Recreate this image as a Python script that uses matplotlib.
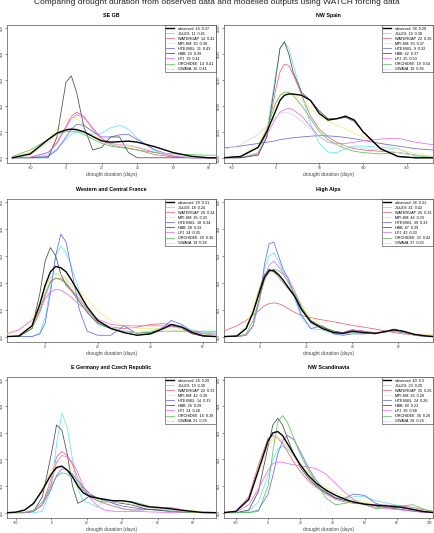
# -*- coding: utf-8 -*-
"""
Drought duration densities: observed vs modelled (WATCH forcing), six regions.
"""

import numpy as np
import matplotlib
matplotlib.use("Agg")
import matplotlib.pyplot as plt

plt.rcParams['font.family'] = ['Liberation Sans', 'DejaVu Sans']

models = ['observed', 'JULES', 'WATERGAP', 'MPI-HM', 'HTESSEL', 'HBB', 'LPJ',
          'ORCHIDEE', 'GWAVA']
colors = ['black', '#5fe6f2', '#f0607a', '#f3ee78', '#6868ee', '#4a4a4a',
          '#ec6cee', '#58c458', '#d6d6d6']

# ---- SE GB (density in units of 0.01) ----
segb_x = [-30, -20, -10, -5, 0, 3, 6, 10, 15, 20, 25, 30, 35, 40, 50, 60, 70, 80, 84]
segb_y = {
    'observed': [0, 0.15, 0.7, 0.95, 1.07, 1.1, 1.08, 1.0, 0.82, 0.65, 0.6, 0.62, 0.64, 0.6, 0.42, 0.2, 0.06, 0, 0],
    'JULES':    [0, 0, 0.1, 0.35, 0.7, 0.9, 1.0, 0.98, 0.9, 0.95, 1.15, 1.25, 1.1, 0.75, 0.25, 0.05, 0, 0, 0],
    'WATERGAP': [0, 0.02, 0.2, 0.6, 1.2, 1.6, 1.75, 1.6, 1.1, 0.7, 0.5, 0.42, 0.38, 0.3, 0.12, 0.03, 0, 0, 0],
    'MPI-HM':   [0.03, 0.2, 0.7, 1.1, 1.45, 1.55, 1.5, 1.3, 0.95, 0.7, 0.55, 0.5, 0.45, 0.38, 0.2, 0.08, 0.02, 0, 0],
    'HTESSEL':  [0, 0, 0.05, 0.3, 0.8, 1.1, 1.28, 1.25, 1.0, 0.8, 0.8, 0.88, 0.9, 0.7, 0.3, 0.07, 0, 0, 0],
    'HBB':      [0, 0, 0, 0.8, 2.9, 3.15, 2.5, 1.2, 0.3, 0.4, 0.8, 0.8, 0.2, 0, 0, 0, 0, 0, 0],
    'LPJ':      [0, 0.02, 0.2, 0.55, 1.15, 1.5, 1.65, 1.55, 1.15, 0.75, 0.55, 0.5, 0.48, 0.4, 0.2, 0.06, 0, 0, 0],
    'ORCHIDEE': [0.05, 0.3, 0.7, 0.9, 1.0, 1.02, 1.0, 0.9, 0.72, 0.55, 0.45, 0.4, 0.35, 0.3, 0.2, 0.15, 0.12, 0.1, 0.1],
    'GWAVA':    [0, 0.1, 0.6, 0.9, 1.1, 1.15, 1.1, 1.0, 0.8, 0.6, 0.5, 0.5, 0.48, 0.42, 0.25, 0.1, 0.02, 0, 0],
}
segb_n = [16, 11, 14, 30, 11, 23, 19, 14, 16]
segb_r = [0.37, 0.41, 0.41, 0.38, 0.43, 0.39, 0.41, 0.41, 0.41]

# ---- NW Spain (density in units of 0.005) ----
spain_x = [-60, -40, -20, -10, 0, 5, 10, 15, 20, 30, 40, 50, 60, 70, 80, 90, 100, 120, 140, 160, 180]
spain_y = {
    'observed': [0, 0.05, 0.4, 1.0, 1.8, 2.2, 2.4, 2.45, 2.45, 2.4, 2.2, 1.7, 1.45, 1.5, 1.6, 1.45, 1.0, 0.35, 0.05, 0, 0],
    'JULES':    [0, 0, 0.2, 1.0, 3.2, 4.2, 4.45, 4.2, 3.6, 2.4, 1.3, 0.55, 0.22, 0.2, 0.35, 0.45, 0.45, 0.4, 0.35, 0.05, 0],
    'WATERGAP': [0, 0, 0.15, 0.8, 2.6, 3.3, 3.6, 3.55, 3.2, 2.4, 1.6, 1.1, 0.8, 0.6, 0.45, 0.35, 0.3, 0.25, 0.2, 0.1, 0.05],
    'MPI-HM':   [0, 0.05, 0.5, 1.2, 2.1, 2.4, 2.55, 2.55, 2.45, 2.2, 1.9, 1.6, 1.4, 1.25, 1.1, 0.95, 0.8, 0.55, 0.35, 0.15, 0.05],
    'HTESSEL':  [0.37, 0.45, 0.55, 0.6, 0.65, 0.7, 0.72, 0.75, 0.77, 0.8, 0.83, 0.85, 0.84, 0.82, 0.78, 0.73, 0.67, 0.55, 0.45, 0.35, 0.3],
    'HBB':      [0, 0, 0.1, 0.8, 3.0, 4.2, 4.45, 4.0, 3.3, 2.5, 2.2, 1.8, 1.5, 1.5, 1.55, 1.4, 1.0, 0.35, 0.05, 0, 0],
    'LPJ':      [0, 0.05, 0.4, 0.9, 1.5, 1.75, 1.85, 1.9, 1.85, 1.6, 1.2, 0.8, 0.6, 0.55, 0.55, 0.6, 0.65, 0.72, 0.75, 0.6, 0.5],
    'ORCHIDEE': [0, 0.05, 0.4, 1.1, 2.1, 2.4, 2.5, 2.5, 2.4, 2.0, 1.5, 1.0, 0.7, 0.5, 0.35, 0.25, 0.2, 0.15, 0.2, 0.1, 0],
    'GWAVA':    [0.3, 0.5, 0.9, 1.2, 1.55, 1.7, 1.75, 1.72, 1.65, 1.4, 1.1, 0.8, 0.6, 0.5, 0.45, 0.4, 0.35, 0.3, 0.2, 0.1, 0.05],
}
spain_n = [38, 19, 22, 30, 9, 42, 25, 19, 19]
spain_r = [0.29, 0.38, 0.36, 0.37, 0.32, 0.37, 0.53, 0.54, 0.38]

# ---- Western and Central France (units of 0.01) ----
france_x = [-15, -10, -5, -2, 0, 2, 4, 6, 8, 10, 13, 16, 20, 25, 30, 35, 40, 45, 48, 52, 56, 60, 65]
france_y = {
    'observed': [0, 0.02, 0.4, 1.2, 1.9, 2.4, 2.6, 2.55, 2.4, 2.1, 1.6, 1.1, 0.6, 0.3, 0.15, 0.05, 0.1, 0.3, 0.45, 0.35, 0.15, 0.03, 0],
    'JULES':    [0, 0, 0, 0.15, 0.7, 1.8, 3.0, 3.35, 3.1, 2.6, 1.7, 0.9, 0.45, 0.3, 0.2, 0.15, 0.2, 0.35, 0.45, 0.4, 0.25, 0.15, 0.15],
    'WATERGAP': [0, 0.02, 0.3, 0.9, 1.5, 2.0, 2.17, 2.15, 2.0, 1.75, 1.4, 1.0, 0.55, 0.35, 0.3, 0.35, 0.45, 0.48, 0.45, 0.35, 0.2, 0.1, 0.05],
    'MPI-HM':   [0.05, 0.2, 0.7, 1.3, 1.8, 2.2, 2.3, 2.25, 2.1, 1.95, 1.7, 1.4, 0.95, 0.6, 0.4, 0.3, 0.3, 0.3, 0.28, 0.22, 0.15, 0.08, 0.03],
    'HTESSEL':  [0, 0, 0, 0.1, 0.5, 1.6, 3.0, 3.8, 3.5, 2.5, 1.0, 0.2, 0.05, 0.05, 0.4, 0.1, 0.1, 0.35, 0.6, 0.45, 0.15, 0.02, 0],
    'HBB':      [0, 0, 0.3, 1.6, 2.8, 3.3, 3.0, 2.3, 1.9, 1.7, 1.3, 0.9, 0.5, 0.3, 0.2, 0.15, 0.15, 0.3, 0.4, 0.3, 0.1, 0.02, 0],
    'LPJ':      [0.1, 0.25, 0.6, 1.0, 1.4, 1.65, 1.75, 1.72, 1.6, 1.45, 1.2, 0.95, 0.65, 0.45, 0.4, 0.4, 0.4, 0.4, 0.38, 0.3, 0.2, 0.12, 0.1],
    'ORCHIDEE': [0, 0.02, 0.3, 1.0, 1.6, 2.05, 2.17, 2.1, 1.95, 1.7, 1.3, 0.9, 0.5, 0.3, 0.2, 0.15, 0.15, 0.2, 0.2, 0.2, 0.2, 0.2, 0.2],
    'GWAVA':    [0, 0.03, 0.4, 1.1, 1.8, 2.2, 2.35, 2.3, 2.15, 1.9, 1.5, 1.05, 0.6, 0.35, 0.2, 0.15, 0.2, 0.3, 0.35, 0.3, 0.15, 0.05, 0],
}
france_n = [28, 18, 20, 35, 18, 28, 24, 20, 19]
france_r = [0.31, 0.24, 0.34, 0.33, 0.34, 0.33, 0.35, 0.36, 0.28]

# ---- High Alps (units of 0.01) ----
alps_x = [-16, -10, -6, -3, 0, 2, 4, 6, 8, 10, 12, 15, 18, 22, 27, 32, 36, 40, 45, 50, 55, 58, 62, 67, 72, 75]
alps_y = {
    'observed': [0, 0.02, 0.3, 0.9, 1.7, 2.2, 2.45, 2.45, 2.3, 2.1, 1.85, 1.5, 1.0, 0.55, 0.3, 0.15, 0.12, 0.2, 0.15, 0.12, 0.2, 0.25, 0.2, 0.08, 0.02, 0],
    'JULES':    [0, 0, 0.05, 0.4, 1.5, 2.5, 3.0, 3.1, 2.8, 2.4, 2.1, 1.4, 0.7, 0.3, 0.25, 0.1, 0.1, 0.15, 0.15, 0.12, 0.2, 0.22, 0.15, 0.05, 0, 0],
    'WATERGAP': [0.2, 0.4, 0.6, 0.8, 1.0, 1.15, 1.22, 1.25, 1.22, 1.15, 1.05, 0.9, 0.78, 0.7, 0.62, 0.55, 0.48, 0.42, 0.35, 0.28, 0.2, 0.15, 0.1, 0.07, 0.06, 0.05],
    'MPI-HM':   [0, 0.05, 0.4, 1.1, 1.9, 2.3, 2.45, 2.4, 2.3, 2.1, 1.9, 1.6, 1.2, 0.75, 0.4, 0.2, 0.15, 0.2, 0.2, 0.15, 0.18, 0.2, 0.18, 0.12, 0.08, 0.05],
    'HTESSEL':  [0, 0, 0.05, 0.4, 1.5, 2.7, 3.45, 3.5, 3.0, 2.5, 2.2, 1.5, 0.8, 0.3, 0.4, 0.1, 0.05, 0.1, 0.1, 0.12, 0.18, 0.2, 0.15, 0.05, 0, 0],
    'HBB':      [0, 0.02, 0.3, 0.9, 1.8, 2.3, 2.5, 2.4, 2.2, 2.0, 1.8, 1.5, 1.05, 0.6, 0.35, 0.2, 0.15, 0.25, 0.2, 0.12, 0.2, 0.28, 0.2, 0.08, 0.02, 0],
    'LPJ':      [0, 0, 0.05, 0.4, 1.4, 2.2, 2.65, 2.8, 2.6, 2.35, 2.2, 1.7, 1.1, 0.5, 0.3, 0.15, 0.15, 0.25, 0.2, 0.15, 0.2, 0.2, 0.15, 0.08, 0.02, 0],
    'ORCHIDEE': [0, 0, 0.1, 0.6, 1.5, 2.1, 2.4, 2.5, 2.45, 2.3, 2.05, 1.6, 1.1, 0.6, 0.3, 0.15, 0.12, 0.15, 0.12, 0.1, 0.18, 0.22, 0.15, 0.05, 0.01, 0],
    'GWAVA':    [0, 0.02, 0.3, 0.9, 1.7, 2.15, 2.35, 2.35, 2.2, 2.0, 1.8, 1.45, 1.0, 0.55, 0.3, 0.15, 0.12, 0.18, 0.15, 0.12, 0.2, 0.22, 0.18, 0.06, 0.01, 0],
}
alps_n = [38, 41, 26, 46, 39, 47, 43, 33, 37]
alps_r = [0.31, 0.42, 0.33, 0.33, 0.33, 0.39, 0.33, 0.42, 0.33]

# ---- E Germany and Czech Republic (units of 0.01) ----
germany_x = [-25, -20, -15, -10, -5, 0, 3, 6, 9, 12, 15, 18, 22, 26, 30, 35, 40, 45, 50, 55, 60, 67, 75, 85, 93]
germany_y = {
    'observed': [0, 0.02, 0.1, 0.35, 0.85, 1.45, 1.7, 1.75, 1.6, 1.35, 1.0, 0.75, 0.6, 0.55, 0.5, 0.45, 0.45, 0.4, 0.3, 0.22, 0.2, 0.15, 0.08, 0.01, 0],
    'JULES':    [0, 0, 0, 0, 0.05, 0.9, 2.6, 3.75, 3.2, 2.0, 0.9, 0.45, 0.35, 0.2, 0.55, 0.35, 0.15, 0.1, 0.1, 0.12, 0.1, 0.08, 0.05, 0, 0],
    'WATERGAP': [0, 0, 0, 0.05, 0.3, 1.3, 2.1, 2.3, 2.15, 1.8, 1.3, 0.9, 0.6, 0.45, 0.35, 0.25, 0.15, 0.1, 0.1, 0.12, 0.15, 0.2, 0.1, 0.02, 0],
    'MPI-HM':   [0, 0.02, 0.1, 0.35, 0.9, 1.6, 1.9, 1.95, 1.85, 1.6, 1.3, 1.0, 0.7, 0.55, 0.5, 0.42, 0.35, 0.3, 0.25, 0.2, 0.15, 0.12, 0.1, 0.05, 0.02],
    'HTESSEL':  [0, 0, 0, 0.05, 0.3, 0.9, 1.4, 1.65, 1.6, 1.45, 1.2, 0.95, 0.7, 0.55, 0.45, 0.35, 0.25, 0.2, 0.15, 0.12, 0.1, 0.05, 0.02, 0, 0],
    'HBB':      [0, 0, 0, 0.05, 0.6, 2.2, 3.3, 3.1, 2.2, 1.0, 0.35, 0.45, 0.65, 0.55, 0.45, 0.4, 0.35, 0.3, 0.2, 0.12, 0.1, 0.05, 0.02, 0, 0],
    'LPJ':      [0, 0, 0, 0.05, 0.3, 1.1, 1.9, 2.15, 2.1, 1.9, 1.5, 1.0, 0.55, 0.25, 0.1, 0.05, 0.05, 0.05, 0.05, 0.03, 0.02, 0.01, 0, 0, 0],
    'ORCHIDEE': [0, 0, 0.02, 0.1, 0.4, 1.0, 1.35, 1.5, 1.45, 1.3, 1.1, 0.85, 0.6, 0.45, 0.4, 0.42, 0.45, 0.42, 0.35, 0.25, 0.15, 0.05, 0.02, 0, 0],
    'GWAVA':    [0, 0.01, 0.08, 0.3, 0.8, 1.4, 1.65, 1.7, 1.55, 1.3, 1.0, 0.75, 0.6, 0.5, 0.45, 0.4, 0.38, 0.32, 0.25, 0.2, 0.15, 0.1, 0.05, 0.01, 0],
}
germany_n = [26, 19, 22, 42, 14, 26, 24, 16, 21]
germany_r = [0.29, 0.39, 0.33, 0.39, 0.33, 0.29, 0.28, 0.39, 0.39]

# ---- NW Scandinavia (units of 0.01) ----
scand_x = [-28, -20, -12, -6, 0, 3, 6, 9, 12, 16, 20, 25, 30, 36, 42, 48, 53, 60, 67, 75, 83, 90, 96, 103]
scand_y = {
    'observed': [0, 0.05, 0.5, 1.6, 2.7, 3.0, 3.05, 2.9, 2.6, 2.2, 1.8, 1.4, 1.1, 0.85, 0.65, 0.5, 0.4, 0.32, 0.28, 0.25, 0.2, 0.12, 0.05, 0],
    'JULES':    [0, 0, 0.05, 0.4, 1.4, 2.0, 2.4, 2.5, 2.4, 2.15, 1.8, 1.4, 1.05, 0.75, 0.55, 0.5, 0.6, 0.6, 0.45, 0.35, 0.25, 0.15, 0.05, 0],
    'WATERGAP': [0, 0.05, 0.6, 1.8, 2.8, 2.9, 2.8, 2.6, 2.3, 1.9, 1.55, 1.2, 0.95, 0.7, 0.5, 0.4, 0.35, 0.32, 0.3, 0.28, 0.25, 0.2, 0.12, 0.05],
    'MPI-HM':   [0, 0.05, 0.5, 1.5, 2.5, 2.75, 2.8, 2.7, 2.5, 2.2, 1.85, 1.5, 1.2, 0.95, 0.75, 0.6, 0.5, 0.4, 0.3, 0.25, 0.2, 0.12, 0.05, 0.01],
    'HTESSEL':  [0, 0, 0, 0.1, 0.7, 1.4, 2.2, 2.7, 2.9, 2.75, 2.3, 1.7, 1.2, 0.8, 0.55, 0.55, 0.7, 0.65, 0.35, 0.2, 0.18, 0.12, 0.05, 0],
    'HBB':      [0, 0, 0.1, 0.8, 2.5, 3.3, 3.55, 3.3, 2.8, 2.2, 1.7, 1.3, 1.0, 0.75, 0.55, 0.45, 0.4, 0.35, 0.25, 0.18, 0.12, 0.06, 0.02, 0],
    'LPJ':      [0, 0.02, 0.3, 0.9, 1.6, 1.85, 1.9, 1.9, 1.85, 1.8, 1.75, 1.72, 1.65, 1.45, 1.1, 0.75, 0.5, 0.3, 0.2, 0.15, 0.1, 0.05, 0.02, 0],
    'ORCHIDEE': [0, 0, 0, 0.05, 1.0, 2.3, 3.4, 3.65, 3.4, 2.8, 2.2, 1.6, 1.1, 0.55, 0.3, 0.35, 0.45, 0.3, 0.15, 0.2, 0.25, 0.3, 0.15, 0.02],
    'GWAVA':    [0, 0.05, 0.45, 1.5, 2.6, 2.85, 2.85, 2.7, 2.45, 2.1, 1.75, 1.4, 1.1, 0.85, 0.65, 0.5, 0.42, 0.35, 0.3, 0.25, 0.2, 0.12, 0.05, 0],
}
scand_n = [40, 23, 35, 36, 24, 40, 36, 36, 28]
scand_r = [0.3, 0.26, 0.26, 0.28, 0.26, 0.23, 0.68, 0.26, 0.26]


def plot_panel(ax, title, x, ys, ns, rs, step, xticks, xlim):
    """One density panel, R style."""
    for i, m in enumerate(models):
        y = np.array(ys[m]) * step
        if m == 'observed':
            ax.plot(x, y, color=colors[i], lw=1.0, zorder=5,
                    label="%s  %d  %s" % (m, ns[i], rs[i]))
        else:
            ax.plot(x, y, color=colors[i], lw=0.55, zorder=3,
                    label="%s  %d  %s" % (m, ns[i], rs[i]))
    ax.set_xlim(*xlim)
    ax.set_ylim(-0.2 * step, 5.1 * step)
    ax.set_xticks(xticks)
    yt = np.arange(6) * step
    ax.set_yticks(yt)
    fmt = "%.3f" if step < 0.01 else "%.2f"
    ax.set_yticklabels([fmt % v for v in yt], rotation=90, va='center')
    ax.tick_params(labelsize=2.3, length=1.5, width=0.4, pad=1,
                   colors='#333333')
    for s in ax.spines.values():
        s.set_linewidth(0.5)
        s.set_color('#555555')
    ax.set_title(title, fontsize=3.8, fontweight='bold', pad=6)
    ax.set_xlabel("drought duration (days)", fontsize=3.5, labelpad=1,
                  color='#444444')
    leg = ax.legend(loc='upper right', fontsize=2.7, borderaxespad=0,
                    handlelength=2.2, labelspacing=0.28, handletextpad=1.0,
                    borderpad=0.4, fancybox=False, framealpha=1)
    leg.get_frame().set_edgecolor('#333333')
    leg.get_frame().set_linewidth(0.4)


fig = plt.figure(figsize=(4.34, 5.33), dpi=100)
fig.text(0.5, 0.996, "Comparing drought duration from observed data and "
         "modelled outputs using WATCH forcing data", ha='center', va='center',
         fontsize=6.0, color='#222222')

left = [7 / 434, 224 / 434]
width = 209 / 434
rows = [(1 - 163 / 533, 138 / 533), (1 - 342 / 533, 143 / 533),
        (1 - 518 / 533, 141 / 533)]

ax = fig.add_axes([left[0], rows[0][0], width, rows[0][1]])
plot_panel(ax, "SE GB", segb_x, segb_y, segb_n, segb_r, 0.01,
           [-20, 0, 20, 40, 60, 80], (-33, 84))
ax = fig.add_axes([left[1], rows[0][0], width, rows[0][1]])
plot_panel(ax, "NW Spain", spain_x, spain_y, spain_n, spain_r, 0.005,
           [-50, 0, 50, 100, 150], (-59, 180))
ax = fig.add_axes([left[0], rows[1][0], width, rows[1][1]])
plot_panel(ax, "Western and Central France", france_x, france_y, france_n,
           france_r, 0.01, [0, 20, 40, 60], (-14.5, 65))
ax = fig.add_axes([left[1], rows[1][0], width, rows[1][1]])
plot_panel(ax, "High Alps", alps_x, alps_y, alps_n, alps_r, 0.01,
           [0, 20, 40, 60], (-15.6, 75))
ax = fig.add_axes([left[0], rows[2][0], width, rows[2][1]])
plot_panel(ax, "E Germany and Czech Republic", germany_x, germany_y,
           germany_n, germany_r, 0.01, [-20, 0, 20, 40, 60, 80], (-25, 93))
ax = fig.add_axes([left[1], rows[2][0], width, rows[2][1]])
plot_panel(ax, "NW Scandinavia", scand_x, scand_y, scand_n, scand_r, 0.01,
           [-20, 0, 20, 40, 60, 80, 100], (-27.4, 102.5))

fig.savefig("out.png", dpi=100)
